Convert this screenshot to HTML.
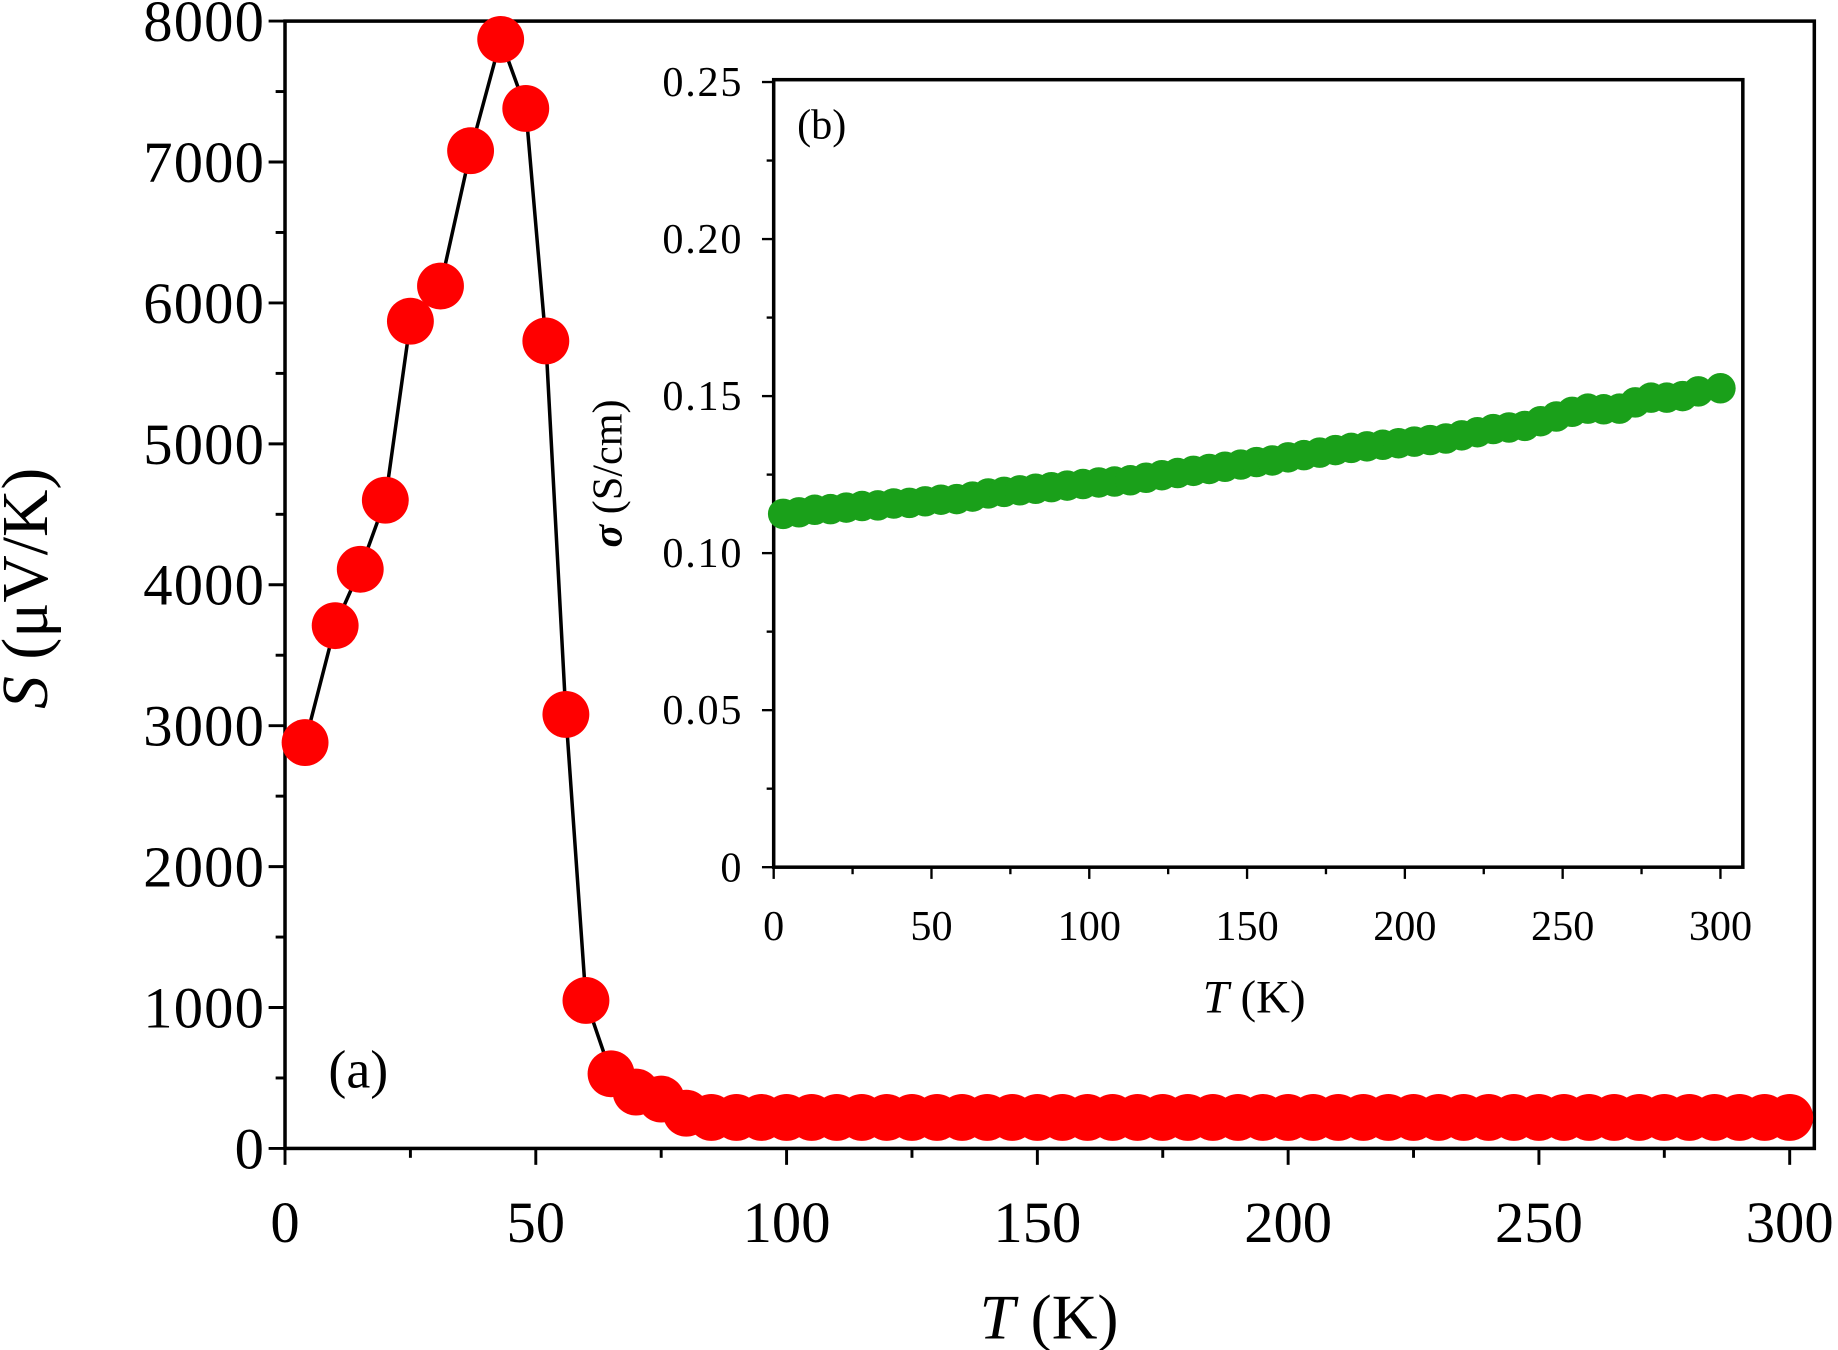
<!DOCTYPE html>
<html><head><meta charset="utf-8">
<style>
html,body{margin:0;padding:0;background:#fff;}
svg{display:block;font-family:"Liberation Serif",serif;}
</style></head>
<body>
<svg id="chart" width="1838" height="1350" viewBox="0 0 1568 1152" xmlns="http://www.w3.org/2000/svg"></svg>
<script>
// Main panel (a) data
const mainT = [4,10,15,20,25,31,37,43,48,52,56,60,65,70,75,80,85,90,95,100,105,110,115,120,125,130,135,140,145,150,155,160,165,170,175,180,185,190,195,200,205,210,215,220,225,230,235,240,245,250,255,260,265,270,275,280,285,290,295,300];
const mainS = [2880,3710,4110,4600,5870,6120,7080,7870,7380,5730,3080,1050,530,400,350,250,220,220,220,220,220,220,220,220,220,220,220,220,220,220,220,220,220,220,220,220,220,220,220,220,220,220,220,220,220,220,220,220,220,220,220,220,220,220,220,220,220,220,220,220];
const mainXTicks = [0,50,100,150,200,250,300];
const mainYTicks = [0,1000,2000,3000,4000,5000,6000,7000,8000];
// Inset panel (b) data
const insetT = [3,8,13,18,23,28,33,38,43,48,53,58,63,68,73,78,83,88,93,98,103,108,113,118,123,128,133,138,143,148,153,158,163,168,173,178,183,188,193,198,203,208,213,218,223,228,233,238,243,248,253,258,263,268,273,278,283,288,293,300];
const insetSigma = [0.1125,0.1130,0.1138,0.1140,0.1145,0.1150,0.1152,0.1158,0.1160,0.1165,0.1170,0.1172,0.1180,0.1190,0.1195,0.1200,0.1205,0.1210,0.1215,0.1220,0.1225,0.1228,0.1232,0.1240,0.1248,0.1255,0.1262,0.1268,0.1275,0.1282,0.1290,0.1295,0.1305,0.1312,0.1320,0.1328,0.1335,0.1340,0.1345,0.1350,0.1355,0.1360,0.1365,0.1375,0.1385,0.1395,0.1400,0.1405,0.1420,0.1435,0.1450,0.1460,0.1458,0.1460,0.1480,0.1495,0.1495,0.1500,0.1515,0.1525];
const insetXTicks = [0,50,100,150,200,250,300];
const insetYTicks = [0,0.05,0.10,0.15,0.20,0.25];
const insetYLabels = ["0","0.05","0.10","0.15","0.20","0.25"];

const svg = document.getElementById('chart');
const NS = 'http://www.w3.org/2000/svg';
function mk(tag, attrs, parent, text){
  const e = document.createElementNS(NS, tag);
  for (const k in attrs) e.setAttribute(k, attrs[k]);
  if (text !== undefined) e.textContent = text;
  (parent||svg).appendChild(e);
  return e;
}
const mx = t => 243 + t*4.28;
const my = s => 980 - s*0.12025;
const ix = t => 660 + t*2.693;
const iy = v => 740 - v*2680;

const mf = mk('rect',{x:243,y:18,width:1305,height:962,fill:'none',stroke:'#000','stroke-width':3});


for (let t=0;t<=300;t+=25){
  const major = t%50===0;
  const l = mk('line',{x1:mx(t),x2:mx(t),y1:980,y2:980+(major?14:8),stroke:'#000','stroke-width':2.5});
  
  
}
mainXTicks.forEach(t=>{
  const tx = mk('text',{x:mx(t),y:1060,'font-size':50,'text-anchor':'middle'},svg,String(t));
  
  
});
for (let s=0;s<=8000;s+=500){
  const major = s%1000===0;
  const l = mk('line',{x1:243,x2:243-(major?14:8),y1:my(s),y2:my(s),stroke:'#000','stroke-width':2.5});
  
  
}
mainYTicks.forEach(s=>{
  const tx = mk('text',{x:226,y:my(s)+17,'font-size':50,'text-anchor':'end','letter-spacing':'1'},svg,String(s));
  
  
});
const xt = mk('text',{x:895,y:1142,'font-size':54,'text-anchor':'middle'});


mk('tspan',{'font-style':'italic'},xt,'T');
mk('tspan',{},xt,' (K)');
const yt = mk('text',{x:0,y:0,'font-size':56,'text-anchor':'middle',transform:'translate(40,502) rotate(-90)'});


mk('tspan',{'font-style':'italic'},yt,'S');
mk('tspan',{},yt,' (μV/K)');
const la = mk('text',{x:280,y:928,'font-size':46},svg,'(a)');



const pts = mainT.map((t,i)=>mx(t)+','+my(mainS[i])).join(' ');
const pl = mk('polyline',{points:pts,fill:'none',stroke:'#000','stroke-width':3});


mainT.forEach((t,i)=>{
  const c = mk('circle',{cx:mx(t),cy:my(mainS[i]),r:20,fill:'#ff0000'});
  
  
});

const inf = mk('rect',{x:660,y:68,width:827,height:672,fill:'none',stroke:'#000','stroke-width':3});


for (let t=0;t<=300;t+=25){
  const major = t%50===0;
  const l = mk('line',{x1:ix(t),x2:ix(t),y1:740,y2:740+(major?10:6),stroke:'#000','stroke-width':2});
  
  
}
insetXTicks.forEach(t=>{
  const tx = mk('text',{x:ix(t),y:802,'font-size':36,'text-anchor':'middle'},svg,String(t));
  
  
});
for (let k=0;k<=10;k++){
  const v = k*0.025;
  const major = k%2===0;
  const l = mk('line',{x1:660,x2:660-(major?10:6),y1:iy(v),y2:iy(v),stroke:'#000','stroke-width':2});
  
  
}
insetYTicks.forEach((v,i)=>{
  const tx = mk('text',{x:634,y:iy(v)+12,'font-size':36,'text-anchor':'end','letter-spacing':'1.5'},svg,insetYLabels[i]);
  
  
});
const ixt = mk('text',{x:1070,y:864,'font-size':40,'text-anchor':'middle'});


mk('tspan',{'font-style':'italic'},ixt,'T');
mk('tspan',{},ixt,' (K)');
const iyt = mk('text',{x:0,y:0,'font-size':36,'text-anchor':'middle',transform:'translate(530,404) rotate(-90)'});


mk('tspan',{'font-style':'italic','font-weight':'bold'},iyt,'σ');
mk('tspan',{},iyt,' (S/cm)');
const lb = mk('text',{x:680,y:118,'font-size':36},svg,'(b)');


insetT.forEach((t,i)=>{
  const c = mk('circle',{cx:ix(t),cy:iy(insetSigma[i]),r:13,fill:'#1aa01a'});
  
  
});
</script>
</body></html>
